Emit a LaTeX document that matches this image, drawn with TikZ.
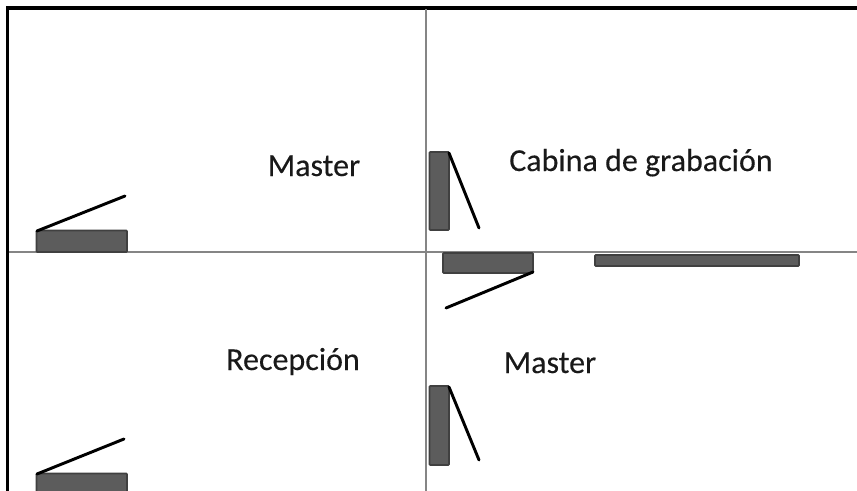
\documentclass[tikz,border=0pt]{standalone}
\usepackage{fontspec}
\setmainfont{Carlito}
\newfontfamily\lblfont{Carlito}[FakeBold=0.2]
\tikzset{
  px/.style={x=0.75pt,y=-0.75pt},
  frameline/.style={draw=black,line width=2.6pt},
  grid/.style={draw=black!48,line width=1.5pt},
  panel/.style={draw=black!75,fill=black!64,line width=1.3pt,rounded corners=0.6pt},
  lid/.style={draw=black,line width=2.2pt,line cap=round},
  lbl/.style={font=\lblfont\fontsize{24}{28}\selectfont,text=black!90,inner sep=0pt,anchor=base}
}
\begin{document}
\begin{tikzpicture}[px]
\useasboundingbox (0,0) rectangle (857,490);
\fill[white] (0,0) rectangle (857,490);
\begin{scope}
\clip (0,0) rectangle (857,490);
% frame and dividing lines
\draw[frameline] (7.5,495) -- (7.5,8) -- (860,8);
\draw[grid] (426,9) -- (426,495);
\draw[grid] (9,252) -- (860,252);
% panels
\draw[panel] (36.5,230.5) rectangle (127,252);
\draw[lid] (37,231) -- (125,196);
\draw[panel] (429.5,152) rectangle (449,230);
\draw[lid] (449,153) -- (479,228);
\draw[panel] (443,253) rectangle (533,273);
\draw[lid] (533,272) -- (446,308);
\draw[panel] (595,255) rectangle (799,266);
\draw[panel] (429.5,386) rectangle (449,465);
\draw[lid] (449,387) -- (479,460);
\draw[panel] (36.5,473.5) rectangle (127,500);
\draw[lid] (37,474) -- (124,439);
\end{scope}
% labels
\node[lbl] (master1) at (314,176) {Master};
\node[lbl] (cabina) at (641,171) {Cabina de grabación};
\node[lbl] (recepcion) at (293,370) {Recepción};
\node[lbl] (master2) at (550,373) {Master};
\end{tikzpicture}
\end{document}
